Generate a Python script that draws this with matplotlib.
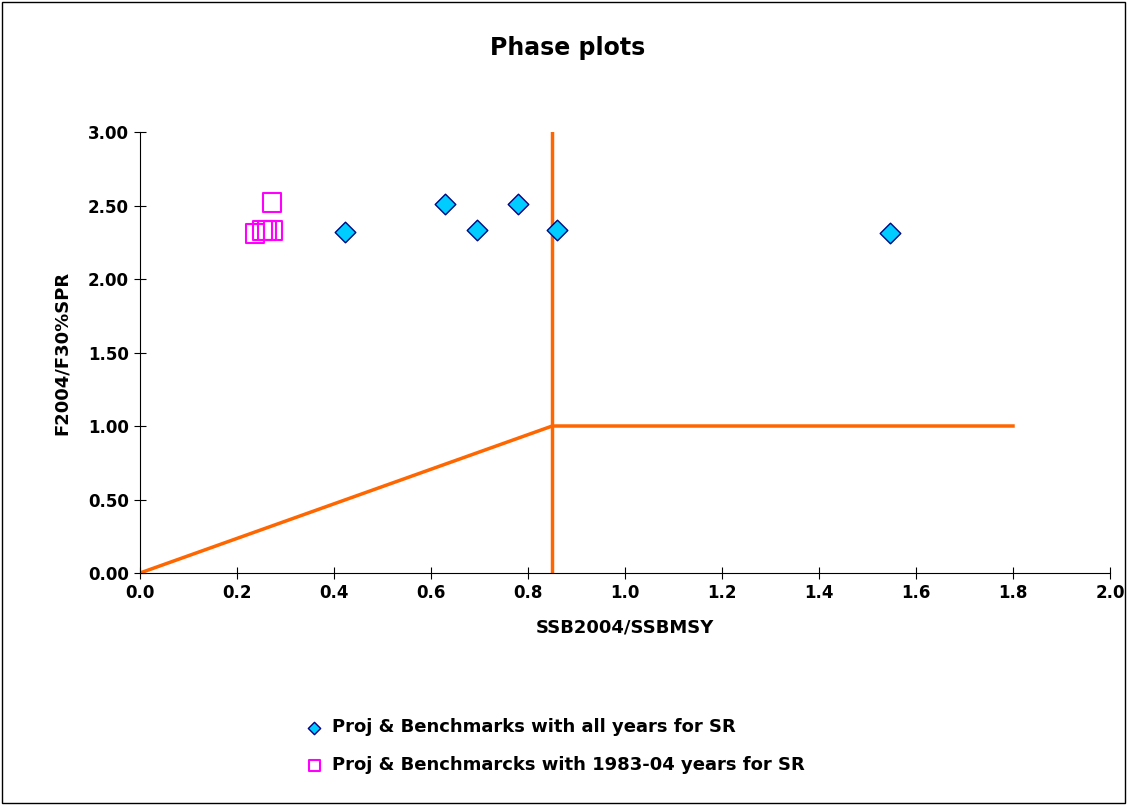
import matplotlib.pyplot as plt
from matplotlib.patches import Rectangle

all_x = [0.423, 0.629, 0.695, 0.779, 0.860, 1.546]
all_y = [2.32, 2.51, 2.33, 2.51, 2.33, 2.31]
sr_x = [0.272, 0.237, 0.252, 0.262, 0.274]
sr_y = [2.52, 2.31, 2.33, 2.33, 2.33]
ref_x = [0.0, 0.85, 1.8]
ref_y = [0.0, 1.0, 1.0]
vline_x = 0.85

W, H = 1127, 805
fig = plt.figure(figsize=(W / 100, H / 100), dpi=100)
fig.patches.append(Rectangle((2 / W, 2 / H), 1 - 4 / W, 1 - 4 / H, transform=fig.transFigure,
                             fill=False, edgecolor='black', linewidth=1))
ax = fig.add_axes([140 / W, 1 - 573 / H, 970 / W, 441 / H])

ax.plot(ref_x, ref_y, color='#FF6600', linewidth=2.5)
ax.plot([vline_x, vline_x], [0, 3.0], color='#FF6600', linewidth=2.5)
ax.scatter(all_x, all_y, marker='D', s=110, color='#00CCFF', edgecolor='#000080',
           linewidth=1, zorder=3, label='Proj & Benchmarks with all years for SR')
ax.scatter(sr_x, sr_y, marker='s', s=180, facecolor='none', edgecolor='#FF00FF',
           linewidth=1.5, zorder=3, label='Proj & Benchmarcks with 1983-04 years for SR')

ax.set_xlim(0, 2.0)
ax.set_ylim(0, 3.0)
ax.set_xticks([i / 5 for i in range(11)])
ax.set_xticklabels([f'{i / 5:.1f}' for i in range(11)])
ax.set_yticks([i / 2 for i in range(7)])
ax.set_yticklabels([f'{i / 2:.2f}' for i in range(7)])
for s in ['top', 'right']:
    ax.spines[s].set_visible(False)
ax.tick_params(direction='inout', length=8, labelsize=12, pad=4)
for lbl in ax.get_xticklabels() + ax.get_yticklabels():
    lbl.set_fontweight('bold')
ax.set_xlabel('SSB2004/SSBMSY', fontsize=13, fontweight='bold', labelpad=12)
ax.set_ylabel('F2004/F30%SPR', fontsize=13, fontweight='bold', labelpad=12)
fig.text(568 / W, 1 - 48 / H, 'Phase plots', ha='center', va='center', fontsize=17, fontweight='bold')

fig.legend(loc='upper left', bbox_to_anchor=(280 / W, 1 - 702 / H), frameon=False,
           prop={'weight': 'bold', 'size': 13}, handletextpad=0.0,
           labelspacing=1.1, markerscale=0.6)
fig.savefig('out.png', dpi=100)
